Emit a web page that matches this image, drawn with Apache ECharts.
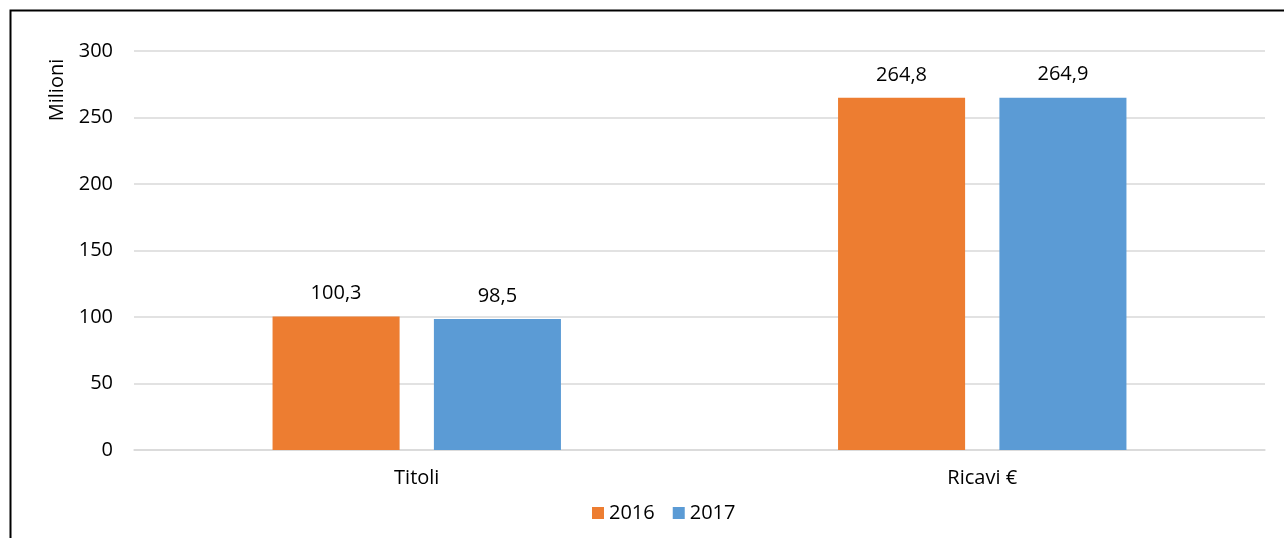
<!DOCTYPE html>
<html>
<head>
<meta charset="utf-8">
<script src="https://cdn.jsdelivr.net/npm/echarts@6/dist/echarts.min.js"></script>
<style>
  html, body { margin: 0; padding: 0; background: #fff; }
  #chart { width: 1284px; height: 538px; }
</style>
</head>
<body>
<div id="chart"></div>
<script>
// Categories and yearly values (milioni)
const categories = ['Titoli', 'Ricavi €'];
const values2016 = [100.3, 264.8];
const values2017 = [98.5, 264.9];
const seriesNames = ['2016', '2017'];

const FONT = 'Open Sans';
const FS = 20;
const fmt = v => v.toFixed(1).replace('.', ',');

const chart = echarts.init(document.getElementById('chart'));

const barLabel = {
  show: true,
  position: 'top',
  distance: 13,
  color: '#000',
  fontFamily: FONT,
  fontSize: FS,
  formatter: p => fmt(p.value)
};

chart.setOption({
  animation: false,
  grid: { left: 134, right: 19, top: 51, bottom: 88 },
  legend: {
    data: seriesNames,
    bottom: 10,
    left: 587,
    itemWidth: 12,
    itemHeight: 12,
    itemGap: 18,
    icon: 'rect',
    textStyle: { fontFamily: FONT, fontSize: FS, color: '#000' }
  },
  xAxis: {
    type: 'category',
    data: categories,
    axisLine: { lineStyle: { color: '#d9d9d9', width: 1.5 } },
    axisTick: { show: false },
    axisLabel: { margin: 18, color: '#000', fontFamily: FONT, fontSize: FS }
  },
  yAxis: {
    type: 'value',
    min: 0,
    max: 300,
    interval: 50,
    axisLine: { show: false },
    axisTick: { show: false },
    splitLine: { lineStyle: { color: '#d9d9d9', width: 1.5 } },
    axisLabel: { margin: 21, color: '#000', fontFamily: FONT, fontSize: FS }
  },
  series: [
    {
      name: seriesNames[0],
      type: 'bar',
      data: values2016,
      itemStyle: { color: '#ED7D31' },
      barGap: '27%',
      barCategoryGap: '49%',
      label: barLabel
    },
    {
      name: seriesNames[1],
      type: 'bar',
      data: values2017,
      itemStyle: { color: '#5B9BD5' },
      barGap: '27%',
      barCategoryGap: '49%',
      label: barLabel
    }
  ],
  graphic: [
    {
      type: 'rect',
      left: 8, top: 8,
      shape: { width: 1300, height: 600 },
      style: { fill: 'none', stroke: '#000', lineWidth: 2 },
      silent: true
    },
    {
      type: 'text',
      x: 57, y: 90,
      rotation: Math.PI / 2,
      style: {
        text: 'Milioni',
        fontFamily: FONT,
        fontSize: FS,
        fill: '#000',
        align: 'center',
        verticalAlign: 'middle'
      }
    }
  ]
});
</script>
</body>
</html>
